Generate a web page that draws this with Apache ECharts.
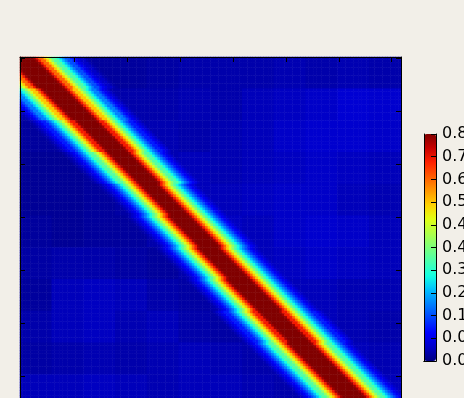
<!DOCTYPE html>
<html>
<head>
<meta charset="utf-8">
<script src="https://cdn.jsdelivr.net/npm/echarts@6/dist/echarts.min.js"></script>
<style>
  html, body { margin: 0; padding: 0; background: #f2efe8; }
  #chart { width: 464px; height: 398px; }
</style>
</head>
<body>
<div id="chart"></div>
<script>
// matrix size and tick step (index units)
const N = 144;
const tickStep = 20;
const groupSize = 12;

// band value by distance from the band centre (cells)
const bandProfile = [0.8, 0.8, 0.8, 0.8, 0.78, 0.71, 0.64, 0.56, 0.49, 0.42, 0.36, 0.3,
  0.25, 0.2, 0.16, 0.12, 0.09, 0.07, 0.05, 0.035, 0.025];

// band centre shift (cells, column minus row) and width scale per block of 12 rows
const bandShift = [0, 0.5, 1, 1, 0.5, 0, -1, -1.5, -2, -2.5, -2.5, -2];
const bandScale = [1.25, 1.15, 1.1, 1.05, 1, 1, 1, 1.05, 1.1, 1.1, 1.1, 1.1];

// background level per 12x12 block (rows top to bottom)
const backgroundLevels = [
  [0.03, 0.03, 0.02, 0.02, 0.025, 0.03, 0.03, 0.03, 0.035, 0.03, 0.035, 0.03],
  [0.03, 0.03, 0.03, 0.03, 0.03, 0.035, 0.03, 0.04, 0.045, 0.05, 0.06, 0.055],
  [0.02, 0.02, 0.03, 0.03, 0.035, 0.03, 0.035, 0.04, 0.05, 0.055, 0.055, 0.05],
  [0.015, 0.015, 0.02, 0.03, 0.035, 0.04, 0.035, 0.04, 0.045, 0.05, 0.045, 0.04],
  [0.015, 0.015, 0.02, 0.025, 0.03, 0.04, 0.04, 0.045, 0.05, 0.05, 0.04, 0.035],
  [0.02, 0.015, 0.02, 0.02, 0.03, 0.035, 0.045, 0.04, 0.05, 0.055, 0.05, 0.04],
  [0.025, 0.03, 0.03, 0.025, 0.02, 0.03, 0.035, 0.04, 0.045, 0.05, 0.045, 0.04],
  [0.02, 0.04, 0.045, 0.04, 0.03, 0.025, 0.03, 0.035, 0.04, 0.04, 0.035, 0.035],
  [0.03, 0.04, 0.045, 0.035, 0.04, 0.03, 0.025, 0.03, 0.035, 0.04, 0.035, 0.03],
  [0.025, 0.03, 0.035, 0.03, 0.035, 0.04, 0.035, 0.03, 0.03, 0.035, 0.04, 0.035],
  [0.04, 0.04, 0.045, 0.04, 0.035, 0.04, 0.04, 0.035, 0.03, 0.03, 0.035, 0.04],
  [0.04, 0.04, 0.045, 0.04, 0.035, 0.04, 0.04, 0.035, 0.03, 0.03, 0.035, 0.04]
];

// colour scale range and jet colours (evenly spaced)
const colorMin = 0;
const colorMax = 0.8;
const colorbarStep = 0.08;
const jetColors = ['#000080', '#0000c8', '#0000ff', '#0040ff', '#0080ff', '#00bfff',
  '#14ffe2', '#48ffaf', '#7bff7b', '#afff48', '#e2ff15', '#ffd200', '#ff9700',
  '#ff5c00', '#ff2100', '#c80000', '#800000'];

const indices = [];
for (let k = 0; k < N; k++) indices.push(k);

const cells = [];
for (let i = 0; i < N; i++) {
  const g = Math.floor(i / groupSize);
  for (let j = 0; j < N; j++) {
    const d = Math.round(Math.abs(j - i - bandShift[g]) / bandScale[g]);
    const band = d < bandProfile.length ? bandProfile[d] : 0;
    const bg = backgroundLevels[g][Math.floor(j / groupSize)];
    cells.push([j, i, Math.min(colorMax, Math.max(band, bg))]);
  }
}

const chart = echarts.init(document.getElementById('chart'), null, { renderer: 'canvas' });

const mainAxis = {
  type: 'category',
  data: indices,
  gridIndex: 0,
  boundaryGap: true,
  z: 5,
  axisLine: { show: true, lineStyle: { color: '#000', width: 1 } },
  axisTick: {
    show: true,
    inside: true,
    length: 5,
    alignWithLabel: true,
    interval: (k) => k % tickStep === 0,
    lineStyle: { color: '#000' }
  },
  axisLabel: { show: false },
  splitLine: { show: false }
};

const barEdge = {
  gridIndex: 1,
  z: 5,
  axisLine: { show: true, lineStyle: { color: '#000', width: 1 } },
  axisTick: { show: false },
  axisLabel: { show: false },
  splitLine: { show: false }
};

chart.setOption({
  backgroundColor: '#f2efe8',
  animation: false,
  grid: [
    { left: 20, top: 57, width: 381, height: 381, outerBoundsMode: 'none' },
    { left: 424, top: 134, width: 12, height: 227, outerBoundsMode: 'none' }
  ],
  xAxis: [
    { ...mainAxis, position: 'bottom' },
    { ...mainAxis, position: 'top' },
    { ...barEdge, type: 'category', data: [''], position: 'bottom' },
    { ...barEdge, type: 'category', data: [''], position: 'top' }
  ],
  yAxis: [
    { ...mainAxis, inverse: true, position: 'left' },
    { ...mainAxis, inverse: true, position: 'right' },
    {
      type: 'value',
      gridIndex: 1,
      position: 'right',
      min: colorMin,
      max: colorMax,
      interval: colorbarStep,
      z: 5,
      axisLine: { show: true, lineStyle: { color: '#000', width: 1 } },
      axisTick: { show: true, inside: true, length: 5, lineStyle: { color: '#000' } },
      axisLabel: {
        color: '#000',
        fontSize: 16,
        fontFamily: 'DejaVu Sans',
        margin: 6,
        formatter: (v) => v.toFixed(2)
      },
      splitLine: { show: false }
    },
    { ...barEdge, type: 'value', min: colorMin, max: colorMax, position: 'left' }
  ],
  visualMap: {
    type: 'continuous',
    seriesIndex: 0,
    min: colorMin,
    max: colorMax,
    inRange: { color: jetColors },
    left: 424,
    top: 134,
    itemWidth: 12,
    itemHeight: 227,
    padding: 0,
    calculable: false,
    hoverLink: false,
    text: null
  },
  series: [
    {
      type: 'heatmap',
      xAxisIndex: 0,
      yAxisIndex: 0,
      data: cells,
      progressive: 0,
      emphasis: { disabled: true },
      itemStyle: { borderWidth: 0 }
    }
  ]
});
</script>
</body>
</html>
